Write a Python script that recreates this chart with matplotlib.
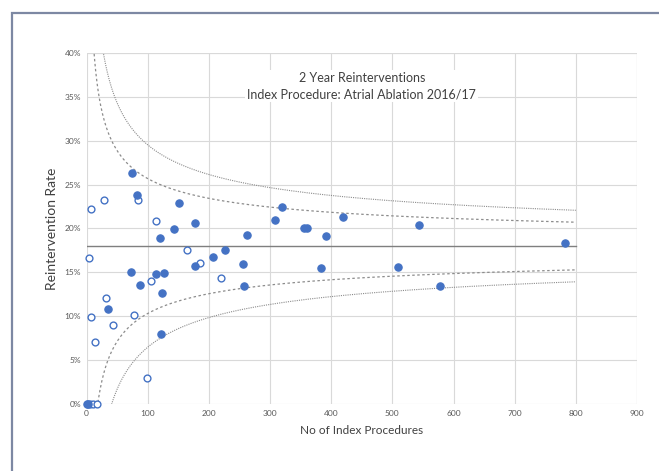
import numpy as np
import matplotlib
matplotlib.use("Agg")
import matplotlib.pyplot as plt
from matplotlib.patches import Rectangle

plt.rcParams['font.family'] = ['Lato', 'DejaVu Sans']

# ---- data ----
filled_n = [1, 2, 74, 82, 151, 178, 143, 120, 72, 113, 126, 87, 124, 35, 122, 177,
            262, 308, 319, 356, 360, 392, 226, 206, 256, 258, 384, 420, 543, 510, 578, 782]
filled_rate = [0.0, 0.0, 26.3, 23.8, 22.9, 20.6, 19.9, 18.9, 15.0, 14.8, 14.9, 13.6, 12.7, 10.8, 8.0, 15.7,
               19.3, 21.0, 22.5, 20.1, 20.1, 19.2, 17.5, 16.8, 15.9, 13.4, 15.5, 21.3, 20.4, 15.6, 13.4, 18.3]
open_n = [7, 28, 84, 113, 164, 185, 4, 106, 31, 8, 43, 78, 13, 98, 219, 5, 10, 17]
open_rate = [22.2, 23.2, 23.2, 20.8, 17.5, 16.1, 16.6, 14.0, 12.1, 9.9, 9.0, 10.1, 7.1, 3.0, 14.4, 0.0, 0.0, 0.0]
mean_rate = 0.18
n_max = 800

x_ticks = [0, 100, 200, 300, 400, 500, 600, 700, 800, 900]
y_ticks = [0, 0.05, 0.10, 0.15, 0.20, 0.25, 0.30, 0.35, 0.40]
y_ticklabels = ['0%', '5%', '10%', '15%', '20%', '25%', '30%', '35%', '40%']

# ---- funnel limits (binomial) ----
nn = np.linspace(3, n_max, 800)
sd = np.sqrt(mean_rate * (1 - mean_rate) / nn)
up2, lo2 = mean_rate + 2 * sd, mean_rate - 2 * sd
up3, lo3 = mean_rate + 3 * sd, mean_rate - 3 * sd

fig = plt.figure(figsize=(6.59, 4.71), dpi=100)
ax = fig.add_axes([0.1314, 0.1423, 0.8352, 0.7452])

blue = '#4472C4'
grid_c = '#d9d9d9'
line_c = '#8c8c8c'

ax.plot(nn, up3, color=line_c, lw=0.8, ls=(0, (1, 1)), zorder=2)
ax.plot(nn, lo3, color=line_c, lw=0.8, ls=(0, (1, 1)), zorder=2)
ax.plot(nn, up2, color=line_c, lw=0.9, ls=(0, (2, 2)), zorder=2)
ax.plot(nn, lo2, color=line_c, lw=0.9, ls=(0, (2, 2)), zorder=2)
ax.plot([0, n_max], [mean_rate, mean_rate], color='#7f7f7f', lw=1.0, zorder=2)

ax.scatter(filled_n, np.array(filled_rate) / 100, s=28, color=blue, edgecolors=blue,
           linewidths=0.8, zorder=4, clip_on=False)
ax.scatter(open_n, np.array(open_rate) / 100, s=24, facecolors='white', edgecolors=blue,
           linewidths=1.0, zorder=3, clip_on=False)

ax.set_xlim(0, 900)
ax.set_ylim(0, 0.40)
ax.set_xticks(x_ticks)
ax.set_yticks(y_ticks)
ax.set_yticklabels(y_ticklabels)
ax.tick_params(length=0, labelsize=6, colors='#595959', pad=4)
ax.grid(True, color=grid_c, lw=0.8, zorder=0)
ax.set_axisbelow(True)
for s in ax.spines.values():
    s.set_visible(False)
ax.axvline(900, color=grid_c, lw=0.8, zorder=0)
ax.axhline(0.40, color=grid_c, lw=0.8, zorder=0)

ax.set_xlabel('No of Index Procedures', fontsize=8.5, color='#404040', labelpad=6)
ax.set_ylabel('Reintervention Rate', fontsize=10, color='#404040', labelpad=5)

ax.text(0.5, 0.905, '2 Year Reinterventions\nIndex Procedure: Atrial Ablation 2016/17',
        transform=ax.transAxes, ha='center', va='center', fontsize=9, color='#404040',
        linespacing=1.4,
        bbox=dict(facecolor='white', edgecolor='none', pad=1.5), zorder=5)

# outer frame
fig.patches.append(Rectangle((12 / 659, -0.05), 1.1, (1 - 13 / 471) + 0.05,
                             transform=fig.transFigure, fill=False,
                             edgecolor='#7d88a3', lw=1.6))

fig.savefig('out.png', dpi=100)
